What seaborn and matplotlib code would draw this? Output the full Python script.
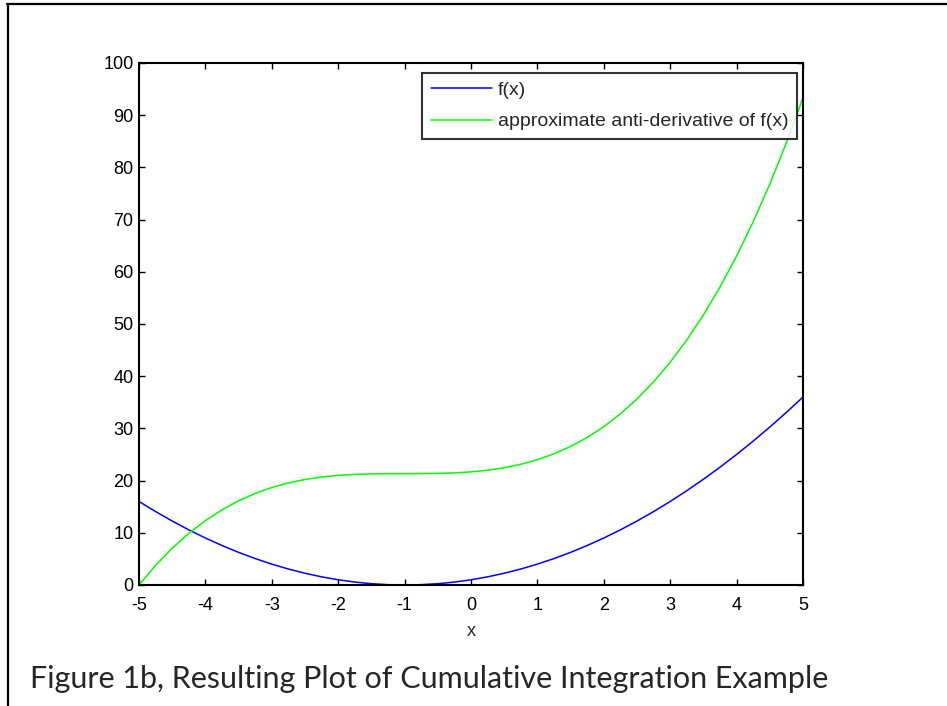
import pandas as pd
import seaborn as sns
import matplotlib.pyplot as plt
from matplotlib.lines import Line2D

# values (x step 0.25)
x_vals = [-5.0, -4.75, -4.5, -4.25, -4.0, -3.75, -3.5, -3.25, -3.0, -2.75,
          -2.5, -2.25, -2.0, -1.75, -1.5, -1.25, -1.0, -0.75, -0.5, -0.25,
          0.0, 0.25, 0.5, 0.75, 1.0, 1.25, 1.5, 1.75, 2.0, 2.25,
          2.5, 2.75, 3.0, 3.25, 3.5, 3.75, 4.0, 4.25, 4.5, 4.75, 5.0]
f_vals = [16.0, 14.06, 12.25, 10.56, 9.0, 7.56, 6.25, 5.06, 4.0, 3.06,
          2.25, 1.56, 1.0, 0.56, 0.25, 0.06, 0.0, 0.06, 0.25, 0.56,
          1.0, 1.56, 2.25, 3.06, 4.0, 5.06, 6.25, 7.56, 9.0, 10.56,
          12.25, 14.06, 16.0, 18.06, 20.25, 22.56, 25.0, 27.56, 30.25, 33.06, 36.0]
anti_vals = [0.0, 3.76, 7.04, 9.89, 12.33, 14.4, 16.13, 17.54, 18.67, 19.55,
             20.21, 20.68, 21.0, 21.19, 21.29, 21.33, 21.33, 21.34, 21.38, 21.47,
             21.67, 21.98, 22.46, 23.12, 24.0, 25.13, 26.54, 28.27, 30.33, 32.78,
             35.63, 38.91, 42.67, 46.92, 51.71, 57.06, 63.0, 69.57, 76.79, 84.7, 93.33]
series_labels = ['f(x)', 'approximate anti-derivative of f(x)']
x_ticks = list(range(-5, 6))
y_ticks = list(range(0, 101, 10))
caption = 'Figure 1b, Resulting Plot of Cumulative Integration Example'


def main():
    sns.set_style('ticks')
    plt.rcParams['font.family'] = ['Liberation Sans', 'DejaVu Sans']
    plt.rcParams['axes.unicode_minus'] = False

    df = pd.DataFrame({'x': x_vals * 2,
                       'y': f_vals + anti_vals,
                       'series': [series_labels[0]] * len(x_vals)
                       + [series_labels[1]] * len(x_vals)})

    fig = plt.figure(figsize=(9.47, 7.06), dpi=100)
    ax = fig.add_axes([0.1468, 0.1714, 0.7011, 0.7394])
    sns.lineplot(data=df, x='x', y='y', hue='series',
                 palette=['#0000ff', '#00ff00'], linewidth=1.1, ax=ax)

    ax.set_xlim(-5, 5)
    ax.set_ylim(0, 100)
    ax.set_xticks(x_ticks)
    ax.set_yticks(y_ticks)
    ax.set_xlabel('x', fontsize=13, labelpad=6)
    ax.set_ylabel('')
    ax.tick_params(direction='in', top=True, right=True, length=4.5,
                   width=1, labelsize=13, colors='black')
    ax.tick_params(axis='x', pad=9)
    ax.tick_params(axis='y', pad=4)
    for sp in ax.spines.values():
        sp.set_visible(True)
        sp.set_linewidth(1.5)
        sp.set_color('black')

    leg = ax.legend(loc='upper right', bbox_to_anchor=(0.991, 0.981),
                    borderaxespad=0, fontsize=14, frameon=True,
                    fancybox=False, handlelength=3.15, handletextpad=0.3,
                    labelspacing=0.7, borderpad=0.45)
    leg.get_frame().set_edgecolor('black')
    leg.get_frame().set_linewidth(1.5)
    for h in leg.get_lines():
        h.set_linewidth(1.1)

    # document frame (top and left rules)
    fig.add_artist(Line2D([7 / 947, 1], [1 - 4 / 706, 1 - 4 / 706],
                          color='black', linewidth=1.6))
    fig.add_artist(Line2D([8 / 947, 8 / 947], [0, 1 - 4 / 706],
                          color='black', linewidth=1.6))

    fig.text(30 / 947, 18 / 706, caption, family=['Lato', 'DejaVu Sans'],
             fontsize=22, va='baseline', ha='left')

    fig.savefig('out.png', dpi=100, facecolor='white')
    plt.close(fig)


if __name__ == '__main__':
    main()
